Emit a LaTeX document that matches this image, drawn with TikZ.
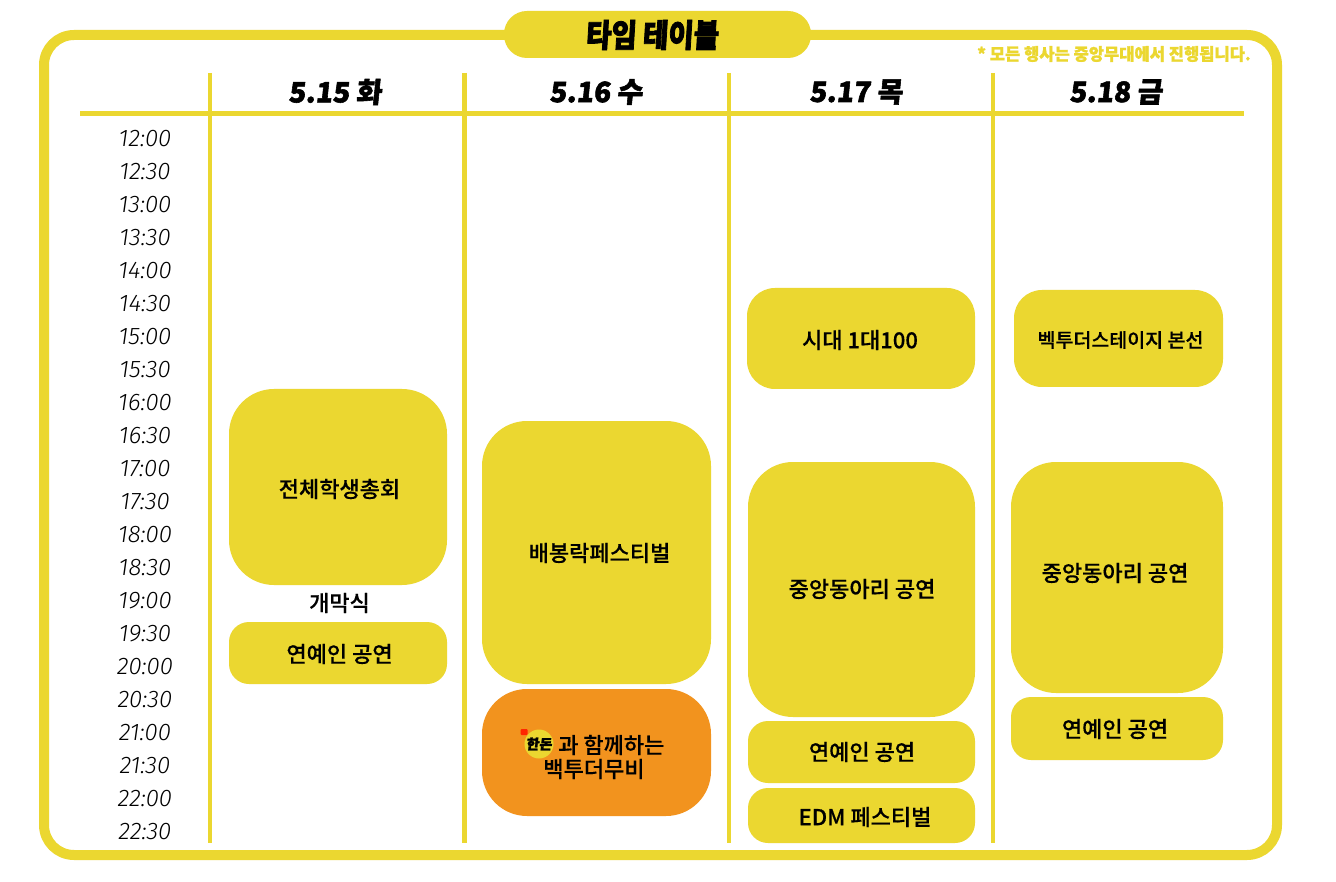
\documentclass[tikz,border=0pt]{standalone}
\usepackage{fontspec}
\setmainfont[FakeBold=0.3]{Noto Sans CJK KR Medium}
\newfontfamily\heavyfont[FakeBold=2.5,FakeStretch=0.86,FakeSlant=0.06]{Noto Sans CJK KR Black}
\newfontfamily\dayfont[FakeBold=2,FakeSlant=0.1]{Noto Sans CJK KR Black}
\newfontfamily\notefont[FakeBold=1,FakeStretch=0.98]{Noto Sans CJK KR Black}
\newfontfamily\timefont{Fira Sans Light Italic}
\definecolor{festyellow}{HTML}{EBD730}
\definecolor{festorange}{HTML}{F2931E}
\tikzstyle{slot}=[rectangle,fill=festyellow,inner sep=0pt]
\tikzstyle{slottext}=[font=\fontsize{22}{24}\selectfont,align=center,inner sep=0pt]
\tikzstyle{rule}=[draw=festyellow,line width=4.5pt]
\tikzstyle{day}=[font=\fontsize{28}{30}\dayfont\selectfont,black]
\tikzstyle{timelabel}=[font=\fontsize{24}{26}\timefont\selectfont,black]

\begin{document}
\begin{tikzpicture}[x=1pt,y=-1pt]
    \useasboundingbox[fill=white] (0,0) rectangle (1336,882);

    \draw[festyellow, line width=10pt, rounded corners=30pt] (44,35) rectangle (1277,855);

    \node[slot, rounded corners=23pt, minimum width=307pt, minimum height=47pt] (title) at (657.5,34.5) {};
    \node[font=\fontsize{32}{34}\heavyfont\selectfont] (titletext) at (652,35) {타임 테이블};
    \node[festyellow, font=\fontsize{16.9}{18}\notefont\selectfont] (note) at (1114,54) {* 모든 행사는 중앙무대에서 진행됩니다.};

    % grid
    \foreach \x/\name in {210/a, 464.5/b, 729/c, 993/d} {
        \coordinate (\name top) at (\x,73);
        \coordinate (\name bot) at (\x,843);
        \draw[rule] (\name top) -- (\name bot);
    }
    \coordinate (headl) at (80,114);
    \coordinate (headr) at (1244,114);
    \draw[rule, line width=5pt] (headl) -- (headr);

    % days
    \foreach \x/\name/\label in {335/d15/5.15 화, 596/d16/5.16 수, 856/d17/5.17 목, 1116/d18/5.18 금}
        \node[day] (\name) at (\x,92) {\label};

    % times
    \foreach \i/\label in {0/12:00, 1/12:30, 2/13:00, 3/13:30, 4/14:00, 5/14:30, 6/15:00, 7/15:30, 8/16:00, 9/16:30, 10/17:00, 11/17:30, 12/18:00, 13/18:30, 14/19:00, 15/19:30, 16/20:00, 17/20:30, 18/21:00, 19/21:30, 20/22:00, 21/22:30}
        \node[timelabel] (t\i) at (145,139+33*\i) {\label};

    % events
    \foreach \x/\y/\w/\h/\r/\name in {
        338/487/218/196/45/e1,
        338/653/218/62/20/e2,
        596.5/552.5/229/263/45/e3,
        861/338.5/228/101/28/e4,
        861.5/589.5/227/255/45/e5,
        861.5/752/227/62/20/e6,
        861.5/815.5/227/55/20/e7,
        1118.5/338.5/209/97/28/e8,
        1117/577.5/212/231/45/e9,
        1117/728.5/212/63/20/e10}
        \node[slot, rounded corners=\r pt, minimum width=\w pt, minimum height=\h pt] (\name) at (\x,\y) {};

    \foreach \x/\y/\name/\label in {
        339.5/489/l1/전체학생총회,
        339.5/654/l2/연예인 공연,
        599.5/553/l3/배봉락페스티벌,
        860/340/l4/시대 1대100,
        862/589/l5/중앙동아리 공연,
        862/752/l6/연예인 공연,
        865/817/l7/EDM 페스티벌,
        1115/573/l9/중앙동아리 공연,
        1115/729/l10/연예인 공연,
        339.5/603/open/개막식}
        \node[slottext] (\name) at (\x,\y) {\label};
    \node[slottext, font=\fontsize{19.5}{22}\selectfont] (l8) at (1120.5,340) {벡투더스테이지 본선};

    \node[slot, fill=festorange, rounded corners=45pt, minimum width=229pt, minimum height=127pt] (movie) at (596.5,752.5) {};
    \node[slottext, anchor=west] (moviea) at (558,745) {과 함께하는};
    \node[slottext] (movieb) at (594,769) {백투더무비};
    \node[circle, fill=festyellow, minimum size=29pt, inner sep=0pt, font=\fontsize{14}{14}\dayfont\selectfont, text=black] (logo) at (539,744) {한돈};
    \node[rectangle, fill=red!70!orange, rounded corners=1pt, minimum width=7pt, minimum height=6pt, inner sep=0pt] (logomark) at (524,732) {};
\end{tikzpicture}
\end{document}
